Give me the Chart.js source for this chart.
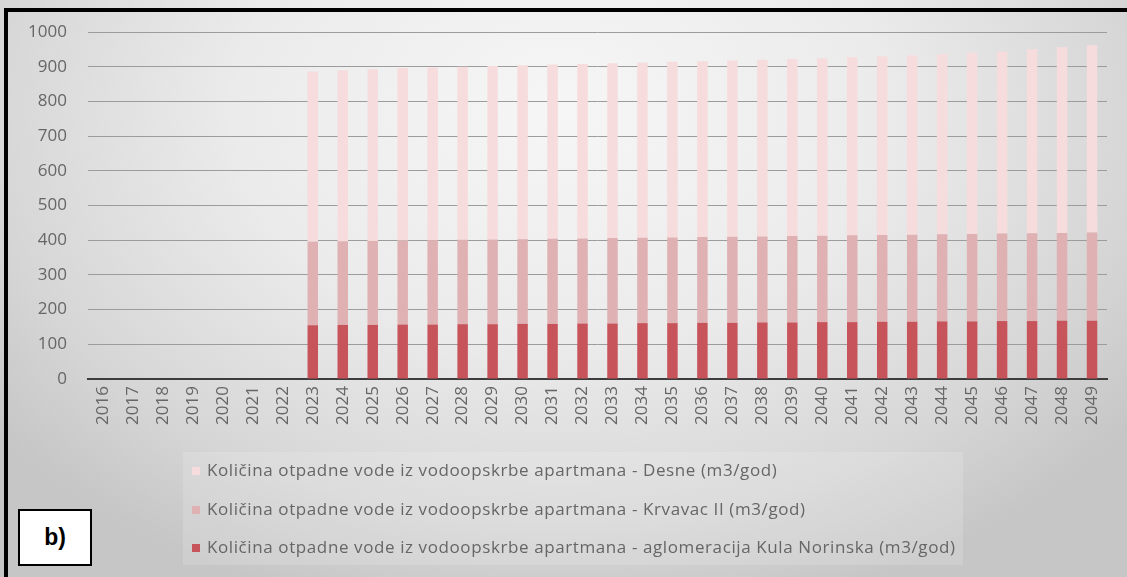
<!DOCTYPE html>
<html>
<head>
<meta charset="utf-8">
<title>Količina otpadne vode</title>
<script src="https://cdn.jsdelivr.net/npm/chart.js@4.4.1/dist/chart.umd.min.js"></script>
<style>
  html, body { margin: 0; padding: 0; background: #fff; }
  #wrap { position: relative; width: 1127px; height: 577px; overflow: hidden; }
  #chart { display: block; }
  #tag {
    position: absolute; left: 18px; top: 509px; width: 70px; height: 53px;
    border: 2px solid #000; background: #fff; box-sizing: content-box;
    font: bold 23px "Liberation Sans", Arial, sans-serif; color: #000;
    display: flex; align-items: center; justify-content: center;
  }
</style>
</head>
<body>
<div id="wrap">
  <canvas id="chart" width="1127" height="577"></canvas>
  <div id="tag">b)</div>
</div>
<script>
// Years on the category axis
const years = ['2016','2017','2018','2019','2020','2021','2022','2023','2024','2025','2026','2027',
  '2028','2029','2030','2031','2032','2033','2034','2035','2036','2037','2038','2039','2040',
  '2041','2042','2043','2044','2045','2046','2047','2048','2049'];

// Waste water volumes (m3/god), 2016–2049
const kulaNorinska = [0,0,0,0,0,0,0, 155,156,156,157,157,158,158,159,159,160,160,161,161,162,162,
  163,163,164,164,165,165,166,166,167,167,168,168];
const krvavacII = [0,0,0,0,0,0,0, 241,241,242,242,243,243,244,244,245,245,246,246,247,247,248,
  248,249,249,250,250,251,251,252,252,253,253,254];
const desne = [0,0,0,0,0,0,0, 490,493,495,497,498,499,500,501,502,503,504,505,506,507,508,
  509,510,511,513,515,517,519,522,525,530,535,540];

const yTicks = [0,100,200,300,400,500,600,700,800,900,1000];

const labelKula = 'Količina otpadne vode iz vodoopskrbe apartmana - aglomeracija Kula Norinska (m3/god)';
const labelKrvavac = 'Količina otpadne vode iz vodoopskrbe apartmana - Krvavac II (m3/god)';
const labelDesne = 'Količina otpadne vode iz vodoopskrbe apartmana - Desne (m3/god)';

const colKula = '#c8545b';
const colKrvavac = '#dfb1b3';
const colDesne = '#f6dcdc';

const textColor = '#666666';
const fontFamily = '"Open Sans", "Liberation Sans", sans-serif';

// Framed, softly shaded backdrop
const backdrop = {
  id: 'backdrop',
  beforeDraw(chart) {
    const ctx = chart.ctx;
    const W = chart.width, H = chart.height;
    ctx.save();
    ctx.fillStyle = '#ffffff';
    ctx.fillRect(0, 0, W, H);
    ctx.save();
    ctx.translate(560, 110);
    ctx.scale(1, 0.72);
    const g = ctx.createRadialGradient(0, 0, 0, 0, 0, 720);
    g.addColorStop(0, '#f6f6f6');
    g.addColorStop(0.45, '#ebebeb');
    g.addColorStop(0.8, '#d6d6d6');
    g.addColorStop(1, '#c6c6c6');
    ctx.fillStyle = g;
    ctx.fillRect(-600, -200, 1300, 1000);
    ctx.restore();
    ctx.fillStyle = '#000000';
    ctx.fillRect(4, 8, W - 4, 4);
    ctx.fillRect(4, 8, 4, H - 8);
    ctx.restore();
  }
};

// Legend block under the axis, one entry per line, top series first
const legendBlock = {
  id: 'legendBlock',
  afterDraw(chart) {
    const ctx = chart.ctx;
    ctx.save();
    ctx.fillStyle = 'rgba(255,255,255,0.15)';
    ctx.fillRect(183, 452, 780, 113);
    const items = chart.data.datasets.slice().reverse();
    const rowY = [471, 510, 548];
    ctx.font = '17px ' + fontFamily;
    if ('letterSpacing' in ctx) ctx.letterSpacing = '0.6px';
    ctx.textBaseline = 'middle';
    ctx.textAlign = 'left';
    items.forEach((ds, i) => {
      ctx.fillStyle = ds.backgroundColor;
      ctx.fillRect(192, rowY[i] - 4, 8, 8);
      ctx.fillStyle = textColor;
      ctx.fillText(ds.label, 207, rowY[i]);
    });
    ctx.restore();
  }
};

new Chart(document.getElementById('chart'), {
  type: 'bar',
  data: {
    labels: years,
    datasets: [
      { label: labelKula, data: kulaNorinska, backgroundColor: colKula },
      { label: labelKrvavac, data: krvavacII, backgroundColor: colKrvavac },
      { label: labelDesne, data: desne, backgroundColor: colDesne }
    ]
  },
  options: {
    responsive: false,
    animation: false,
    devicePixelRatio: 1,
    layout: { padding: { left: 0, right: 20, top: 32, bottom: 138 } },
    datasets: { bar: { barPercentage: 0.35, categoryPercentage: 1, borderWidth: 0 } },
    plugins: { legend: { display: false }, tooltip: { enabled: false } },
    scales: {
      x: {
        stacked: true,
        grid: { display: false, drawTicks: false },
        border: { display: true, color: '#3c3c3c', width: 2 },
        ticks: {
          color: textColor, autoSkip: false, minRotation: 90, maxRotation: 90, padding: 7,
          font: { family: fontFamily, size: 17 }
        },
        afterFit(scale) { scale.height = 60; }
      },
      y: {
        stacked: true,
        min: 0, max: 1000,
        afterBuildTicks(scale) { scale.ticks = yTicks.map(v => ({ value: v })); },
        grid: { color: '#9c9c9c', lineWidth: 1, drawTicks: false },
        border: { display: false },
        ticks: {
          color: textColor, padding: 21,
          font: { family: fontFamily, size: 17 },
          callback: (v) => String(v)
        },
        afterFit(scale) { scale.width = 88; }
      }
    }
  },
  plugins: [backdrop, legendBlock]
});
</script>
</body>
</html>
